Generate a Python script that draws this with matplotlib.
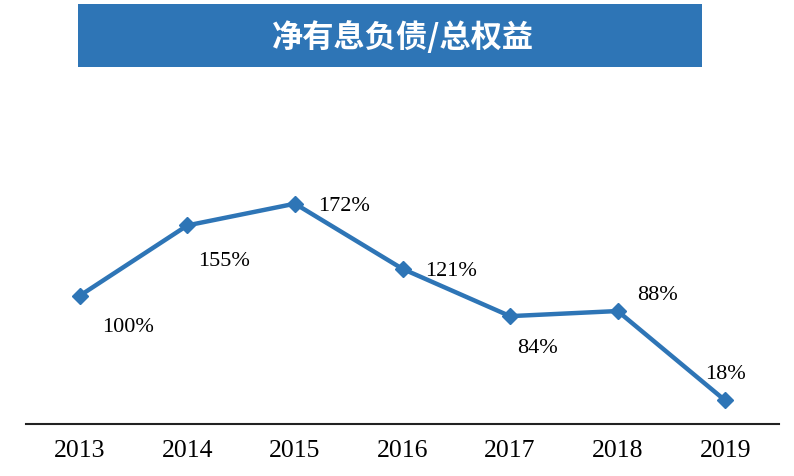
import matplotlib
matplotlib.use("Agg")
import matplotlib.pyplot as plt
from matplotlib.patches import Rectangle

years = ["2013", "2014", "2015", "2016", "2017", "2018", "2019"]
values = [100, 155, 172, 121, 84, 88, 18]
title = "净有息负债/总权益"

# label offsets in pixels (dx right, dy up)
label_offsets = [(48, -31), (37, -35), (49, -2), (49, -2), (27, -31), (40, 17), (0, 27)]

DPI = 100
W, H = 794, 477
fig = plt.figure(figsize=(W / DPI, H / DPI), dpi=DPI)
fig.patch.set_facecolor("white")

blue = "#2E75B6"

# title banner
fig.patches.append(Rectangle((78 / W, 1 - 68 / H), (702 - 78) / W, (68 - 5) / H,
                             transform=fig.transFigure, facecolor=blue, edgecolor="none"))
fig.text(403 / W, 1 - 38 / H, title, color="white", fontsize=22.5,
         fontweight="bold", ha="center", va="center",
         family=["Noto Sans CJK SC", "DejaVu Sans"])

left, right = 26 / W, 779 / W
bottom_px, top_px = 424.5, 100
ax = fig.add_axes([left, 1 - bottom_px / H, right - left, (bottom_px - top_px) / H])
x = list(range(len(years)))
ax.plot(x, values, color=blue, lw=3.2, marker="D", markersize=8.5,
        markerfacecolor=blue, markeredgecolor=blue, zorder=3)
ax.set_xlim(-0.5, len(years) - 0.5)
ax.set_ylim(0, (bottom_px - top_px) / 1.278)

for xi, v, (dx, dy) in zip(x, values, label_offsets):
    ax.annotate(f"{v}%", (xi, v), xytext=(dx * 72 / DPI, dy * 72 / DPI),
                textcoords="offset points", ha="center", va="center",
                fontsize=16, family="Liberation Serif", color="black")

for s in ["top", "right", "left"]:
    ax.spines[s].set_visible(False)
ax.spines["bottom"].set_linewidth(1.5)
ax.spines["bottom"].set_color("#222222")
ax.set_yticks([])
ax.set_xticks(x)
ax.set_xticklabels(years, family="Liberation Serif", fontsize=18.5)
ax.tick_params(axis="x", length=0, pad=11)
ax.patch.set_visible(False)

fig.savefig("out.png", dpi=DPI)
